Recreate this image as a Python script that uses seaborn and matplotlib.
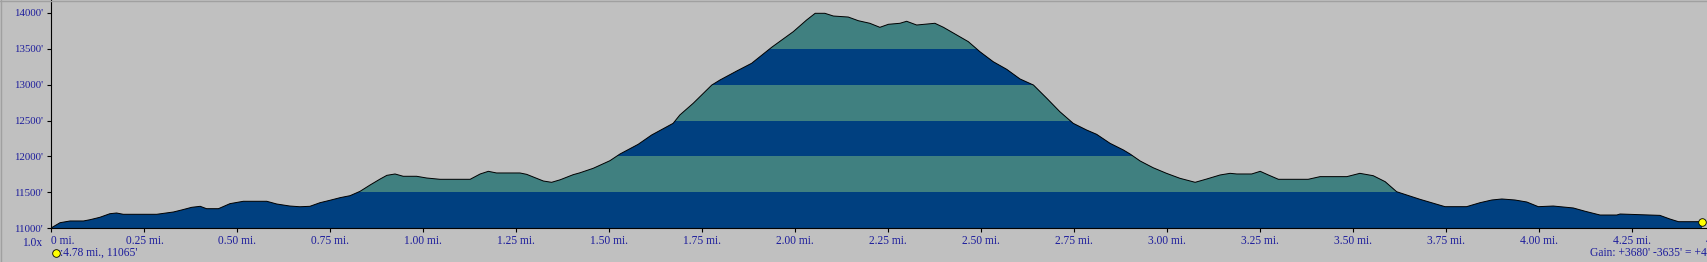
import numpy as np
import matplotlib
matplotlib.use("Agg")
import matplotlib.pyplot as plt
from matplotlib.lines import Line2D
import seaborn as sns

# ---- data ----
miles = [0.000, 0.023, 0.050, 0.086, 0.104, 0.130, 0.157, 0.175, 0.193, 0.283,
         0.328, 0.350, 0.377, 0.400, 0.417, 0.449, 0.480, 0.516, 0.579, 0.606,
         0.641, 0.668, 0.695, 0.722, 0.749, 0.776, 0.803, 0.830, 0.857, 0.884,
         0.902, 0.924, 0.946, 0.982, 1.009, 1.045, 1.126, 1.153, 1.175, 1.197,
         1.260, 1.278, 1.323, 1.345, 1.368, 1.403, 1.421, 1.457, 1.502, 1.529,
         1.578, 1.614, 1.672, 1.690, 1.726, 1.776, 1.798, 1.843, 1.883, 1.937,
         1.995, 2.031, 2.054, 2.080, 2.103, 2.143, 2.170, 2.201, 2.228, 2.251,
         2.282, 2.300, 2.327, 2.376, 2.399, 2.435, 2.466, 2.497, 2.533, 2.569,
         2.605, 2.641, 2.677, 2.712, 2.748, 2.784, 2.811, 2.847, 2.883, 2.901,
         2.928, 2.963, 2.999, 3.035, 3.076, 3.107, 3.143, 3.170, 3.188, 3.228,
         3.251, 3.273, 3.300, 3.380, 3.412, 3.484, 3.519, 3.555, 3.587, 3.618,
         3.645, 3.681, 3.717, 3.748, 3.806, 3.842, 3.874, 3.901, 3.936, 3.968,
         3.999, 4.039, 4.093, 4.125, 4.165, 4.210, 4.219, 4.326, 4.353, 4.376,
         4.438]
elevation_ft = [11008, 11078, 11102, 11102, 11120, 11153, 11203, 11213, 11195, 11195,
                11227, 11255, 11292, 11306, 11273, 11273, 11343, 11376, 11376, 11338,
                11310, 11300, 11306, 11356, 11390, 11426, 11454, 11515, 11603, 11686,
                11737, 11756, 11724, 11724, 11700, 11682, 11682, 11756, 11793, 11770,
                11770, 11751, 11658, 11640, 11675, 11746, 11772, 11835, 11941, 12034,
                12169, 12298, 12461, 12577, 12740, 12994, 13064, 13189, 13296, 13519,
                13736, 13899, 13992, 13992, 13954, 13940, 13889, 13853, 13797, 13839,
                13853, 13881, 13829, 13853, 13797, 13690, 13597, 13458, 13318, 13213,
                13078, 12994, 12809, 12623, 12461, 12368, 12308, 12183, 12090, 12034,
                11937, 11843, 11765, 11696, 11640, 11686, 11742, 11765, 11756, 11756,
                11793, 11742, 11682, 11682, 11719, 11719, 11765, 11732, 11649, 11509,
                11463, 11403, 11348, 11301, 11301, 11356, 11394, 11408, 11394, 11366,
                11301, 11310, 11283, 11237, 11185, 11185, 11199, 11180, 11129, 11092,
                11092]
band_edges = [11000, 11500, 12000, 12500, 13000, 13500, 14500]
band_colors = ["#004080", "#408080", "#004080", "#408080", "#004080", "#408080"]
y_ticks = [11000, 11500, 12000, 12500, 13000, 13500, 14000]
x_ticks = [0, 0.25, 0.50, 0.75, 1.00, 1.25, 1.50, 1.75, 2.00, 2.25, 2.50,
           2.75, 3.00, 3.25, 3.50, 3.75, 4.00, 4.25, 4.50]
zoom_label = "1.0x"
cursor_label = ":4.78 mi., 11065'"
gain_label = "Gain: +3680' -3635' = +45'"

# ---- styling ----
sns.set_theme(style="white")
plt.rcParams["font.family"] = ["Liberation Serif", "DejaVu Serif"]
BG = "#C0C0C0"
TXT = "#1c1c9c"

W, H = 1708, 262
fig = plt.figure(figsize=(W / 100, H / 100), dpi=100, facecolor=BG)

x0_px, base_px = 51.5, 228.3     # x origin / baseline in pixels (from top)
px_per_mile = 371.8
px_per_ft = 35.93 / 500.0
right_px = 1760.0
ax = fig.add_axes([x0_px / W, (H - base_px) / H, (right_px - x0_px) / W, base_px / H])
ax.set_facecolor(BG)
ax.set_xlim(0, (right_px - x0_px) / px_per_mile)
ax.set_ylim(11000, 11000 + base_px / px_per_ft)

m = np.array(miles)
e = np.array(elevation_ft)

poly = ax.fill_between(m, 11000, e, color=band_colors[0], lw=0, zorder=1)
clip = poly.get_paths()[0]
for lo, hi, c in zip(band_edges[:-1], band_edges[1:], band_colors):
    span = ax.axhspan(lo, hi, color=c, lw=0, zorder=2)
    span.set_clip_path(clip, ax.transData)

sns.lineplot(x=m, y=e, color="black", lw=0.7, ax=ax, zorder=3, sort=False)
ax.scatter([m[-1]], [e[-1]], s=30, color="#FFFF00", edgecolor="black",
           linewidth=0.6, zorder=5, clip_on=False)

for s in ["top", "right"]:
    ax.spines[s].set_visible(False)
for s in ["left", "bottom"]:
    ax.spines[s].set_color("black")
    ax.spines[s].set_linewidth(0.8)
    ax.spines[s].set_zorder(4)

ax.set_yticks(y_ticks)
ax.set_yticklabels([f"{v}'" for v in y_ticks])
ax.set_xticks(x_ticks)
ax.set_xticklabels(["0 mi." if v == 0 else f"{v:.2f} mi." for v in x_ticks])
ax.tick_params(axis="y", direction="out", length=2.6, width=0.8, pad=3.5,
               labelsize=7.8, labelcolor=TXT, color="black", left=True)
ax.tick_params(axis="x", direction="out", length=2.6, width=0.8, pad=2,
               labelsize=8.3, labelcolor=TXT, color="black", bottom=True)
ax.get_xticklabels()[0].set_horizontalalignment("left")
ax.set_xlabel("")
ax.set_ylabel("")
ax.grid(False)


def fy(py):
    return (H - py) / H


fig.text(32 / W, fy(243), zoom_label, ha="center", va="center",
         fontsize=8.3, color=TXT)
fig.add_artist(Line2D([56.3 / W], [fy(253.3)], marker="o", ms=5.5,
                      mfc="#FFFF00", mec="black", mew=0.6, ls="none"))
fig.text(60 / W, fy(253), cursor_label, ha="left", va="center",
         fontsize=8.3, color=TXT)
fig.text(1590 / W, fy(252.7), gain_label, ha="left", va="center",
         fontsize=8.3, color=TXT)

# window frame edges
fig.add_artist(Line2D([0, 1], [1 - 0.5 / H, 1 - 0.5 / H], color="#A0A0A0", lw=1))
fig.add_artist(Line2D([0.5 / W, 0.5 / W], [0, 1], color="#A0A0A0", lw=1))

fig.savefig("out.png", dpi=100, facecolor=BG)
